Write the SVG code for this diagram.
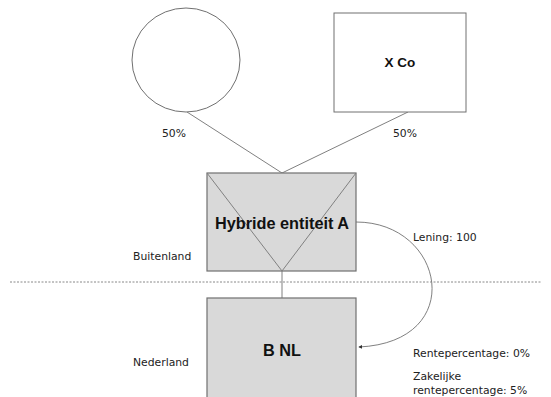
<svg xmlns="http://www.w3.org/2000/svg" width="551" height="397" viewBox="0 0 551 397">
<defs>
<style>
.ln{fill:none;stroke:#808080;stroke-width:1}
.box{fill:#d9d9d9;stroke:#707070;stroke-width:1.2}
.wbox{fill:#fff;stroke:#707070;stroke-width:1}
.t{font-family:"DejaVu Sans",sans-serif;font-size:10.8px;fill:#222}
.b{font-family:"Liberation Sans",Arial,sans-serif;font-weight:bold;fill:#111}
</style>
<marker id="ah" viewBox="0 0 6 6" refX="5" refY="3" markerWidth="4" markerHeight="4" orient="auto">
<path d="M0,0 L6,3 L0,6 z" fill="#333"/>
</marker>
</defs>
<rect width="551" height="397" fill="#fff"/>
<g id="connectors">
<line class="ln" x1="187" y1="112" x2="282" y2="173"/>
<line class="ln" x1="408" y1="112" x2="282" y2="173"/>
<line class="ln" x1="282" y1="271" x2="282" y2="298"/>
<line x1="10" y1="282" x2="541" y2="282" stroke="#888" stroke-width="1" stroke-dasharray="2,1.5"/>
<path class="ln" d="M356,222 C445,222 468,342 359,347" marker-end="url(#ah)"/>
</g>
<g id="circle"><ellipse class="wbox" cx="186" cy="60" rx="54" ry="52"/></g>
<g id="xco">
<rect class="wbox" x="334" y="13" width="132" height="99"/>
<text class="b" x="400" y="67" font-size="13.5" text-anchor="middle">X Co</text>
</g>
<g id="hybride">
<rect class="box" x="207" y="173" width="149" height="98"/>
<polyline class="ln" points="207,173 282,271 356,173" stroke="#707070"/>
<text class="b" x="282" y="229" font-size="16.3" text-anchor="middle">Hybride entiteit A</text>
</g>
<g id="bnl">
<rect class="box" x="207" y="298" width="149" height="105"/>
<text class="b" x="282" y="356" font-size="16.3" text-anchor="middle">B NL</text>
</g>
<g id="labels">
<text class="t" x="162" y="137">50%</text>
<text class="t" x="393" y="137">50%</text>
<text class="t" x="413" y="241">Lening: 100</text>
<text class="t" x="133" y="260">Buitenland</text>
<text class="t" x="133" y="366">Nederland</text>
<text class="t" x="413" y="357">Rentepercentage: 0%</text>
<text class="t" x="413" y="380">Zakelijke</text>
<text class="t" x="413" y="394">rentepercentage: 5%</text>
</g>
</svg>
